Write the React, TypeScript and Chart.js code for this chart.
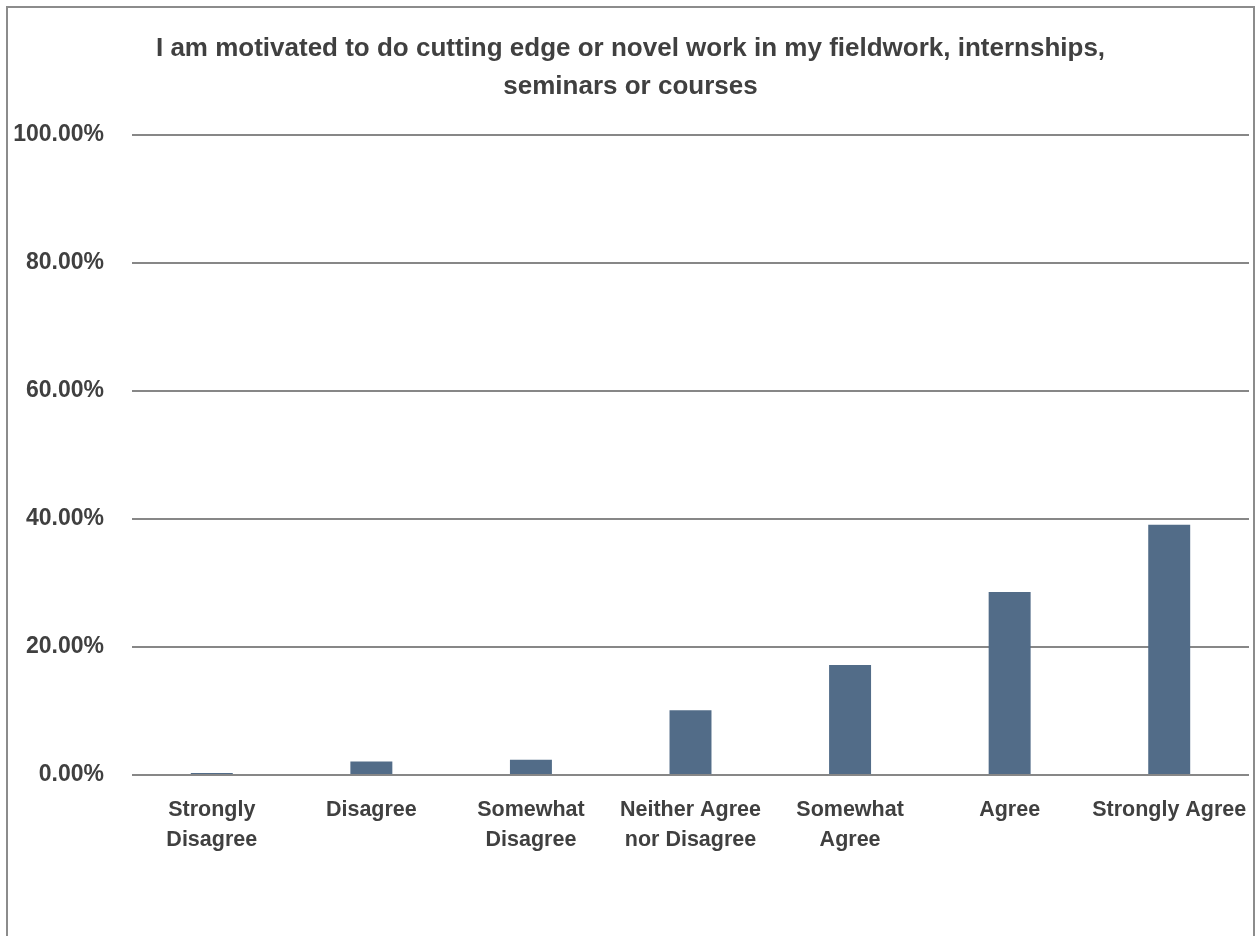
import React, { useEffect, useRef } from "react";
import { Chart, registerables } from "chart.js";

Chart.register(...registerables);

const TITLE_LINES = [
  "I am motivated to do cutting edge or novel work in my fieldwork, internships,",
  "seminars or courses",
];

const CATEGORIES: (string | string[])[] = [
  ["Strongly", "Disagree"],
  "Disagree",
  ["Somewhat", "Disagree"],
  ["Neither Agree", "nor Disagree"],
  ["Somewhat", "Agree"],
  "Agree",
  "Strongly Agree",
];

const PERCENT_VALUES = [0.3, 2.1, 2.4, 10.1, 17.2, 28.6, 39.1];

const Y_MIN = 0;
const Y_MAX = 100;
const Y_STEP = 20;

const FONT = "'Liberation Sans', Arial, Helvetica, sans-serif";
const TEXT_COLOR = "#404040";
const BAR_COLOR = "#526c88";
const GRID_COLOR = "#878787";

export default function App() {
  const canvasRef = useRef<HTMLCanvasElement | null>(null);

  useEffect(() => {
    if (!canvasRef.current) return;
    const chart = new Chart(canvasRef.current, {
      type: "bar",
      data: {
        labels: CATEGORIES,
        datasets: [
          {
            data: PERCENT_VALUES,
            backgroundColor: BAR_COLOR,
            borderWidth: 0,
            barPercentage: 0.263,
            categoryPercentage: 1,
          },
        ],
      },
      options: {
        animation: false,
        responsive: false,
        devicePixelRatio: 1,
        layout: { padding: { left: 12, right: 6, top: 0, bottom: 83 } },
        plugins: {
          legend: { display: false },
          tooltip: { enabled: false },
          title: {
            display: true,
            text: TITLE_LINES,
            color: TEXT_COLOR,
            font: { family: FONT, size: 26, weight: "bold", lineHeight: 38 / 26 },
            padding: { top: 30, bottom: 29 },
          },
        },
        scales: {
          x: {
            grid: { display: false, drawTicks: false },
            border: { display: false },
            ticks: {
              color: TEXT_COLOR,
              font: { family: FONT, size: 21.5, weight: "bold", lineHeight: "30px" },
              padding: 20,
              maxRotation: 0,
              minRotation: 0,
              autoSkip: false,
            },
            afterFit: (scale: any) => {
              scale.height = 78;
              scale.paddingLeft = 0;
              scale.paddingRight = 0;
            },
          },
          y: {
            min: Y_MIN,
            max: Y_MAX,
            border: { display: false },
            grid: { color: GRID_COLOR, lineWidth: 2, drawTicks: false },
            ticks: {
              stepSize: Y_STEP,
              color: TEXT_COLOR,
              padding: 28,
              font: { family: FONT, size: 23, weight: "bold" },
              callback: (v: any) => Number(v).toFixed(2) + "%",
            },
            afterFit: (scale: any) => {
              scale.width = 120;
              scale.paddingTop = 0;
              scale.paddingBottom = 0;
            },
          },
        },
      },
    });
    return () => chart.destroy();
  }, []);

  return (
    <div
      style={{
        position: "fixed",
        left: 0,
        top: 0,
        width: 1255,
        height: 936,
        overflow: "hidden",
        background: "#ffffff",
      }}
    >
      <canvas
        ref={canvasRef}
        width={1255}
        height={936}
        style={{ position: "absolute", left: 0, top: 0, width: 1255, height: 936 }}
      />
      <div
        style={{
          position: "absolute",
          left: 6,
          top: 6,
          width: 1249,
          height: 1000,
          boxSizing: "border-box",
          border: "2px solid #8c8c8c",
          pointerEvents: "none",
        }}
      />
    </div>
  );
}
